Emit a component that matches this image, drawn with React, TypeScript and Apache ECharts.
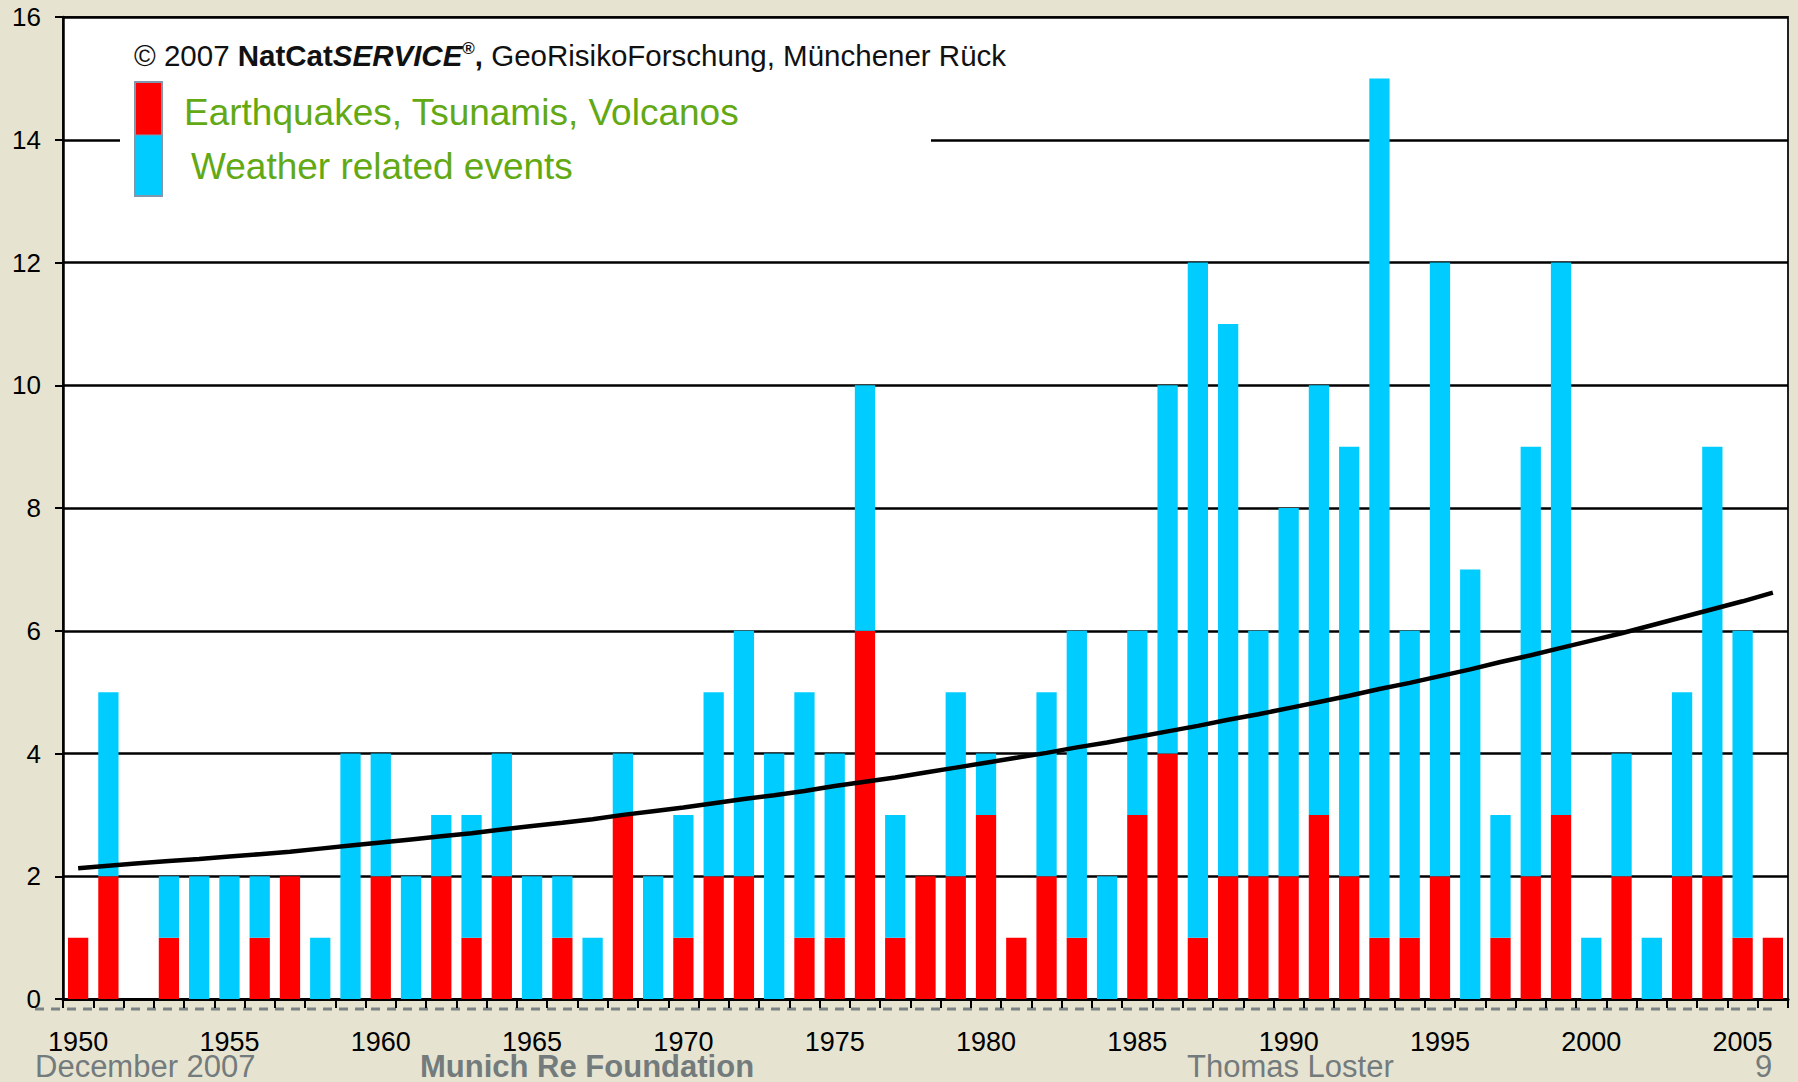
import React, { useEffect, useRef } from "react";
import * as echarts from "echarts";

const years = [
  "1950","1951","1952","1953","1954","1955","1956","1957","1958","1959",
  "1960","1961","1962","1963","1964","1965","1966","1967","1968","1969",
  "1970","1971","1972","1973","1974","1975","1976","1977","1978","1979",
  "1980","1981","1982","1983","1984","1985","1986","1987","1988","1989",
  "1990","1991","1992","1993","1994","1995","1996","1997","1998","1999",
  "2000","2001","2002","2003","2004","2005","2006",
];

// Earthquakes, Tsunamis, Volcanos (red)
const geoEvents = [
  1,2,0,1,0,0,1,2,0,0,
  2,0,2,1,2,0,1,0,3,0,
  1,2,2,0,1,1,6,1,2,2,
  3,1,2,1,0,3,4,1,2,2,
  2,3,2,1,1,2,0,1,2,3,
  0,2,0,2,2,1,1,
];

// Weather related events (blue), stacked on top
const weatherEvents = [
  0,3,0,1,2,2,1,0,1,4,
  2,2,1,2,2,2,1,1,1,2,
  2,3,4,4,4,3,4,2,0,3,
  1,0,3,5,2,3,6,11,9,4,
  6,7,7,14,5,10,7,2,7,9,
  1,2,1,3,7,5,0,
];

// Trend line
const trend = [
  2.13,2.17,2.21,2.25,2.28,2.32,2.36,2.40,2.45,2.50,
  2.55,2.60,2.65,2.70,2.76,2.82,2.87,2.93,3.00,3.06,
  3.12,3.19,3.26,3.32,3.39,3.47,3.54,3.61,3.69,3.77,
  3.85,3.93,4.01,4.10,4.18,4.27,4.36,4.45,4.55,4.64,
  4.74,4.84,4.94,5.05,5.15,5.26,5.37,5.49,5.60,5.72,
  5.84,5.96,6.09,6.22,6.35,6.48,6.62,
];

const FONT = "'Liberation Sans', Arial, Helvetica, sans-serif";
const GREEN = "#62A914";
const GRAY = "#737B7D";

export default function App() {
  const ref = useRef<HTMLDivElement>(null);

  useEffect(() => {
    document.body.style.margin = "0";
    if (!ref.current) return;
    const chart = echarts.init(ref.current, undefined, { renderer: "svg" });
    chart.setOption({
      animation: false,
      backgroundColor: "#E6E4D1",
      grid: {
        left: 63,
        top: 17,
        right: 10,
        bottom: 83,
        show: true,
        backgroundColor: "#ffffff",
        borderColor: "#222222",
        borderWidth: 2,
      },
      xAxis: {
        type: "category",
        data: years,
        boundaryGap: true,
        axisLine: { show: true, lineStyle: { color: "#000", width: 3 } },
        axisTick: {
          show: true,
          alignWithLabel: false,
          interval: 0,
          length: 9,
          lineStyle: { color: "#000", width: 2 },
        },
        axisLabel: {
          interval: 4,
          margin: 29,
          fontSize: 27,
          fontFamily: FONT,
          color: "#000",
        },
        splitLine: { show: false },
      },
      yAxis: {
        type: "value",
        min: 0,
        max: 16,
        interval: 2,
        axisLine: { show: true, lineStyle: { color: "#000", width: 2.5 } },
        axisTick: { show: true, length: 8, lineStyle: { color: "#000", width: 2 } },
        axisLabel: { margin: 22, fontSize: 26, fontFamily: FONT, color: "#000" },
        splitLine: { show: true, lineStyle: { color: "#000", width: 2.5 } },
      },
      series: [
        {
          name: "Earthquakes, Tsunamis, Volcanos",
          type: "bar",
          stack: "events",
          data: geoEvents,
          barCategoryGap: "33%",
          itemStyle: { color: "#FF0000" },
          z: 3,
        },
        {
          name: "Weather related events",
          type: "bar",
          stack: "events",
          data: weatherEvents,
          barCategoryGap: "33%",
          itemStyle: { color: "#00CCFF" },
          z: 3,
        },
        {
          name: "Trend",
          type: "line",
          data: trend,
          showSymbol: false,
          symbol: "none",
          lineStyle: { color: "#000", width: 4.5 },
          z: 5,
        },
      ],
      graphic: [
        // white legend box covering grid lines
        {
          type: "rect",
          shape: { x: 120, y: 32, width: 811, height: 172 },
          style: { fill: "#ffffff" },
          z: 10,
        },
        {
          type: "text",
          x: 134,
          y: 55,
          z: 11,
          style: {
            text: "© 2007 {b|NatCat}{bi|SERVICE}{sup|®}{b|,} GeoRisikoForschung, Münchener Rück",
            fontSize: 29.5,
            fontFamily: FONT,
            fill: "#111111",
            verticalAlign: "middle",
            rich: {
              b: { fontSize: 29.5, fontFamily: FONT, fontWeight: "bold", fill: "#111111" },
              bi: { fontSize: 29.5, fontFamily: FONT, fontWeight: "bold", fontStyle: "italic", fill: "#111111" },
              sup: { fontSize: 17, fontFamily: FONT, fontWeight: "bold", fill: "#111111", verticalAlign: "top", padding: [0, 0, 10, 0] },
            },
          },
        },
        {
          type: "rect",
          shape: { x: 135, y: 82, width: 27, height: 114 },
          style: { fill: "#00CCFF", stroke: "#8097AD", lineWidth: 2 },
          z: 11,
        },
        {
          type: "rect",
          shape: { x: 136, y: 83, width: 25, height: 52 },
          style: { fill: "#FF0000" },
          z: 12,
        },
        {
          type: "line",
          shape: { x1: 136, y1: 135, x2: 161, y2: 135 },
          style: { stroke: "#8097AD", lineWidth: 1 },
          z: 12,
        },
        {
          type: "text",
          x: 184,
          y: 112,
          z: 11,
          style: { text: "Earthquakes, Tsunamis, Volcanos", fontSize: 37, fontFamily: FONT, fill: GREEN, verticalAlign: "middle" },
        },
        {
          type: "text",
          x: 191,
          y: 166,
          z: 11,
          style: { text: "Weather related events", fontSize: 37, fontFamily: FONT, fill: GREEN, verticalAlign: "middle" },
        },
        // dashed gray line below x axis
        {
          type: "line",
          shape: { x1: 35, y1: 1009, x2: 1775, y2: 1009 },
          style: { stroke: "#7B8283", lineWidth: 3, lineDash: [9, 7] },
          z: -1,
        },
        // footer
        {
          type: "text",
          x: 35,
          y: 1066,
          style: { text: "December 2007", fontSize: 31, fontFamily: FONT, fill: GRAY, verticalAlign: "middle" },
        },
        {
          type: "text",
          x: 420,
          y: 1066,
          style: { text: "Munich Re Foundation", fontSize: 31, fontWeight: "bold", fontFamily: FONT, fill: GRAY, verticalAlign: "middle" },
        },
        {
          type: "text",
          x: 1187,
          y: 1066,
          style: { text: "Thomas Loster", fontSize: 31, fontFamily: FONT, fill: GRAY, verticalAlign: "middle" },
        },
        {
          type: "text",
          x: 1755,
          y: 1066,
          style: { text: "9", fontSize: 31, fontFamily: FONT, fill: GRAY, verticalAlign: "middle" },
        },
      ],
    });
    return () => chart.dispose();
  }, []);

  return <div ref={ref} style={{ width: 1798, height: 1082 }} />;
}
